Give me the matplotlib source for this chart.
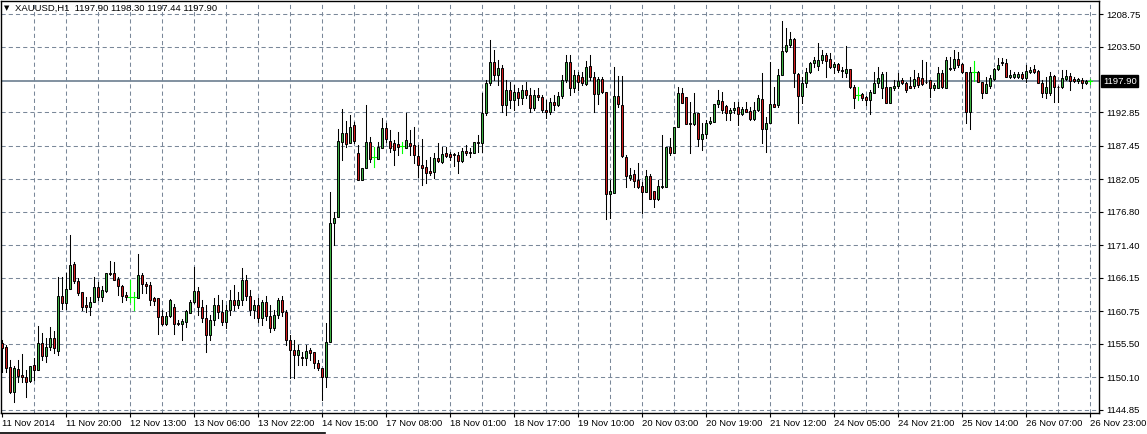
import matplotlib
matplotlib.use("Agg")
import matplotlib.pyplot as plt
import matplotlib.transforms as mtransforms
from matplotlib.patches import Rectangle
from matplotlib.lines import Line2D

# XAUUSD H1 candles, 11 Nov 2014 .. 26 Nov 2014 23:00
opens = [
    1155.6, 1155.0, 1151.7, 1147.7, 1151.4, 1150.4, 1150.2, 1149.5, 1152.1, 1151.3,
    1155.6, 1153.5, 1155.0, 1156.4, 1154.3, 1163.2, 1162.1, 1164.3, 1168.4, 1165.6,
    1163.9, 1161.7, 1161.4, 1162.2, 1164.7, 1163.0, 1164.0, 1166.9, 1166.9, 1165.9,
    1164.8, 1163.4, 1163.0, 1163.0, 1162.9, 1166.6, 1165.1, 1165.0, 1162.9, 1162.9,
    1160.0, 1158.7, 1160.0, 1161.4, 1158.8, 1158.7, 1159.0, 1160.5, 1162.2, 1164.0,
    1161.4, 1159.7, 1156.9, 1159.3, 1161.7, 1160.6, 1159.0, 1161.0, 1162.6, 1161.7,
    1162.6, 1165.8, 1163.2, 1161.0, 1161.7, 1159.7, 1162.2, 1160.0, 1158.0, 1160.1,
    1162.6, 1160.6, 1156.1, 1154.5, 1153.7, 1153.4, 1153.2, 1154.5, 1154.2, 1152.4,
    1151.6, 1150.1, 1155.8, 1175.0, 1176.0, 1188.1, 1189.5, 1187.9, 1190.8, 1186.3,
    1181.9, 1183.9, 1188.1, 1185.7, 1185.3, 1187.1, 1190.3, 1188.2, 1187.9, 1187.8,
    1187.4, 1187.1, 1187.9, 1187.6, 1185.8, 1184.4, 1184.0, 1183.4, 1183.2, 1185.5,
    1184.8, 1186.3, 1186.1, 1186.1, 1186.0, 1185.0, 1186.6, 1186.5, 1186.3, 1188.1,
    1187.9, 1192.8, 1197.6, 1201.0, 1198.9, 1200.0, 1194.0, 1196.5, 1194.9, 1196.2,
    1195.2, 1196.5, 1195.7, 1193.6, 1195.7, 1195.3, 1193.2, 1192.9, 1194.5, 1194.0,
    1195.5, 1198.1, 1201.0, 1196.8, 1198.9, 1198.6, 1197.4, 1200.3, 1198.6, 1195.8,
    1198.3, 1196.2, 1179.7, 1179.8, 1195.5, 1194.0, 1185.6, 1182.3, 1182.9, 1181.9,
    1181.0, 1180.0, 1182.6, 1180.2, 1178.9, 1180.8, 1180.8, 1187.3, 1186.3, 1190.5,
    1196.0, 1195.3, 1191.1, 1191.0, 1192.8, 1188.6, 1189.4, 1191.1, 1191.3, 1194.2,
    1194.7, 1193.9, 1192.8, 1193.2, 1193.7, 1192.6, 1193.4, 1193.1, 1191.8, 1193.2,
    1195.0, 1190.2, 1191.1, 1194.2, 1194.0, 1198.9, 1202.8, 1203.7, 1204.7, 1199.1,
    1195.5, 1197.6, 1199.4, 1200.8, 1200.3, 1201.3, 1202.1, 1201.5, 1200.2, 1200.7,
    1199.7, 1199.2, 1199.9, 1197.0, 1195.7, 1195.8, 1195.3, 1194.9, 1196.0, 1197.6,
    1196.8, 1197.0, 1194.4, 1196.8, 1197.1, 1198.1, 1197.6, 1197.1, 1197.1, 1198.6,
    1198.4, 1197.8, 1198.1, 1196.8, 1196.8, 1199.2, 1196.8, 1200.0, 1200.0, 1201.5,
    1200.7, 1199.4, 1192.9, 1199.4, 1199.4, 1197.8, 1196.0, 1197.1, 1198.3, 1199.9,
    1201.0, 1200.8, 1198.6, 1198.6, 1198.6, 1199.1, 1198.4, 1199.4, 1199.9, 1199.5,
    1197.6, 1196.0, 1196.0, 1198.7, 1197.0, 1197.0, 1198.3, 1198.7, 1198.3, 1197.9,
    1198.1, 1197.6, 1197.90,
]
highs = [
    1156.1, 1155.3, 1152.9, 1151.9, 1152.9, 1153.8, 1151.3, 1151.9, 1153.2, 1158.4,
    1157.2, 1156.4, 1158.2, 1157.6, 1166.3, 1166.3, 1166.9, 1173.1, 1168.7, 1166.1,
    1163.9, 1163.0, 1163.0, 1166.3, 1165.5, 1164.8, 1166.9, 1168.9, 1168.7, 1166.3,
    1165.0, 1163.9, 1165.8, 1163.9, 1170.0, 1166.9, 1165.5, 1165.5, 1163.0, 1162.9,
    1161.0, 1160.6, 1162.7, 1161.9, 1159.3, 1159.5, 1161.0, 1162.6, 1167.9, 1164.7,
    1162.6, 1161.7, 1160.1, 1162.9, 1163.4, 1162.6, 1161.7, 1164.2, 1165.0, 1163.9,
    1167.7, 1166.6, 1164.2, 1162.6, 1162.9, 1162.6, 1163.2, 1161.7, 1161.0, 1162.9,
    1163.2, 1161.0, 1156.9, 1156.1, 1155.3, 1154.2, 1155.3, 1154.8, 1154.2, 1152.9,
    1151.6, 1158.8, 1180.0, 1176.8, 1190.2, 1193.4, 1191.5, 1192.4, 1191.3, 1187.6,
    1183.9, 1194.0, 1188.9, 1187.3, 1188.1, 1192.0, 1191.1, 1190.0, 1188.4, 1189.7,
    1188.1, 1192.8, 1190.0, 1190.5, 1187.6, 1188.6, 1185.2, 1185.7, 1186.3, 1187.9,
    1187.3, 1187.3, 1186.5, 1186.3, 1186.5, 1187.1, 1187.6, 1187.1, 1188.1, 1189.2,
    1196.0, 1198.1, 1204.5, 1202.9, 1201.3, 1200.5, 1198.1, 1197.8, 1197.3, 1196.8,
    1197.3, 1197.8, 1196.8, 1196.5, 1196.8, 1195.7, 1194.9, 1195.2, 1195.7, 1196.2,
    1198.9, 1202.1, 1202.1, 1199.7, 1199.4, 1199.4, 1201.2, 1202.1, 1199.4, 1198.6,
    1198.6, 1196.2, 1181.9, 1200.2, 1198.7, 1198.7, 1186.0, 1183.9, 1183.6, 1184.7,
    1181.6, 1183.6, 1182.9, 1180.2, 1181.9, 1189.2, 1187.3, 1188.7, 1190.5, 1197.0,
    1196.8, 1195.3, 1194.5, 1196.0, 1192.8, 1191.1, 1191.6, 1192.1, 1194.2, 1196.5,
    1196.2, 1194.0, 1193.6, 1194.5, 1194.5, 1193.7, 1194.5, 1193.7, 1194.5, 1195.7,
    1199.2, 1192.1, 1201.0, 1197.0, 1199.9, 1207.6, 1206.5, 1205.8, 1204.9, 1199.2,
    1198.6, 1200.0, 1201.0, 1201.8, 1204.1, 1202.9, 1202.4, 1202.4, 1201.0, 1200.8,
    1200.2, 1203.6, 1199.9, 1197.3, 1197.0, 1196.0, 1195.5, 1196.5, 1199.4, 1200.2,
    1199.4, 1199.4, 1197.0, 1198.1, 1199.2, 1198.4, 1197.8, 1198.6, 1199.7, 1199.2,
    1201.3, 1201.0, 1198.1, 1197.6, 1200.2, 1199.7, 1201.8, 1201.8, 1202.9, 1202.6,
    1200.8, 1199.4, 1200.2, 1201.2, 1199.5, 1197.8, 1198.6, 1198.9, 1200.0, 1201.6,
    1201.6, 1201.5, 1199.7, 1199.4, 1199.4, 1199.4, 1200.5, 1200.2, 1200.5, 1199.7,
    1198.1, 1198.6, 1199.4, 1198.9, 1197.1, 1199.7, 1199.7, 1199.2, 1198.6, 1198.4,
    1198.4, 1198.1, 1198.30,
]
lows = [
    1150.9, 1150.9, 1147.5, 1146.1, 1149.3, 1149.3, 1146.9, 1149.3, 1149.6, 1151.3,
    1152.9, 1152.5, 1154.5, 1154.0, 1153.7, 1161.1, 1161.1, 1164.3, 1165.3, 1163.4,
    1161.0, 1160.6, 1160.1, 1162.2, 1162.6, 1162.4, 1163.9, 1166.6, 1165.8, 1163.4,
    1162.2, 1162.6, 1162.2, 1161.0, 1162.9, 1163.7, 1163.7, 1161.7, 1161.7, 1157.1,
    1158.5, 1158.5, 1159.8, 1157.1, 1158.5, 1156.1, 1158.2, 1160.5, 1162.1, 1160.1,
    1159.0, 1154.2, 1156.1, 1158.5, 1159.7, 1158.5, 1158.0, 1160.1, 1161.0, 1161.3,
    1161.7, 1162.6, 1160.1, 1159.7, 1159.0, 1158.5, 1159.3, 1157.4, 1157.7, 1159.7,
    1160.0, 1155.3, 1150.0, 1150.0, 1152.1, 1152.1, 1152.1, 1152.9, 1151.6, 1151.3,
    1146.4, 1148.5, 1155.8, 1171.4, 1176.0, 1185.2, 1187.3, 1187.9, 1187.9, 1181.9,
    1181.9, 1183.9, 1184.8, 1184.0, 1185.3, 1187.1, 1188.1, 1186.5, 1184.4, 1186.0,
    1186.3, 1187.1, 1186.0, 1184.7, 1182.4, 1181.1, 1181.4, 1182.7, 1182.3, 1184.8,
    1184.7, 1185.7, 1185.2, 1184.2, 1183.1, 1184.8, 1186.0, 1185.7, 1186.3, 1186.5,
    1186.5, 1192.4, 1197.3, 1198.1, 1197.3, 1192.9, 1192.4, 1193.6, 1193.2, 1194.0,
    1194.2, 1195.2, 1192.9, 1193.2, 1194.9, 1192.9, 1191.9, 1192.6, 1193.2, 1193.9,
    1195.2, 1197.8, 1195.7, 1196.2, 1196.5, 1197.3, 1197.3, 1198.1, 1192.9, 1194.2,
    1196.0, 1175.6, 1175.8, 1179.8, 1193.7, 1185.6, 1180.8, 1181.9, 1180.8, 1180.6,
    1176.6, 1180.0, 1178.9, 1177.6, 1178.7, 1180.6, 1180.8, 1186.0, 1186.3, 1190.5,
    1194.4, 1191.0, 1186.3, 1190.8, 1187.4, 1186.8, 1188.7, 1191.0, 1191.3, 1193.7,
    1192.8, 1191.6, 1191.6, 1192.8, 1190.8, 1192.4, 1192.9, 1191.6, 1191.6, 1193.1,
    1187.9, 1186.5, 1191.1, 1193.7, 1193.7, 1198.9, 1202.6, 1203.4, 1196.9, 1191.1,
    1194.4, 1196.9, 1199.2, 1200.2, 1199.7, 1200.8, 1198.6, 1200.0, 1199.2, 1199.4,
    1198.6, 1198.6, 1196.8, 1193.6, 1194.9, 1194.9, 1194.0, 1192.6, 1196.0, 1196.9,
    1195.2, 1194.4, 1194.4, 1196.5, 1196.8, 1197.4, 1196.2, 1196.8, 1196.8, 1196.9,
    1197.3, 1197.6, 1195.3, 1196.5, 1196.8, 1196.8, 1196.8, 1199.7, 1199.7, 1200.2,
    1199.2, 1191.1, 1190.2, 1197.9, 1197.8, 1195.2, 1196.0, 1196.8, 1198.1, 1199.7,
    1200.5, 1198.6, 1198.4, 1198.4, 1198.4, 1198.3, 1197.8, 1199.2, 1199.2, 1197.6,
    1195.3, 1195.2, 1195.7, 1194.5, 1194.5, 1196.8, 1198.1, 1196.5, 1197.8, 1197.6,
    1196.8, 1197.4, 1197.44,
]
closes = [
    1154.8, 1151.6, 1147.7, 1151.6, 1150.3, 1150.2, 1149.3, 1151.9, 1151.3, 1155.6,
    1153.5, 1155.0, 1156.4, 1154.8, 1163.2, 1162.1, 1164.3, 1168.2, 1165.6, 1163.7,
    1161.4, 1161.4, 1162.2, 1164.7, 1163.0, 1164.2, 1166.9, 1166.7, 1165.8, 1164.8,
    1163.2, 1163.0, 1163.0, 1163.0, 1166.6, 1165.1, 1164.8, 1162.6, 1162.4, 1159.8,
    1158.7, 1160.0, 1162.6, 1158.7, 1158.7, 1159.2, 1160.8, 1162.2, 1164.0, 1161.4,
    1159.7, 1156.9, 1159.3, 1161.7, 1160.6, 1159.0, 1161.0, 1162.6, 1161.7, 1162.6,
    1165.8, 1163.2, 1161.0, 1161.7, 1159.7, 1162.2, 1160.0, 1158.0, 1160.1, 1162.6,
    1160.6, 1156.1, 1154.5, 1153.7, 1154.5, 1153.2, 1154.3, 1154.0, 1152.4, 1151.6,
    1150.1, 1155.8, 1175.0, 1175.8, 1188.2, 1189.5, 1187.8, 1190.5, 1188.2, 1181.9,
    1183.9, 1188.1, 1185.3, 1185.7, 1187.3, 1190.3, 1188.6, 1187.1, 1186.8, 1187.3,
    1187.4, 1188.4, 1187.4, 1186.0, 1184.4, 1183.9, 1183.1, 1183.1, 1185.5, 1185.0,
    1186.1, 1185.8, 1185.7, 1186.0, 1185.0, 1186.6, 1186.3, 1186.3, 1188.1, 1187.9,
    1192.8, 1197.6, 1201.0, 1198.9, 1200.0, 1194.0, 1196.5, 1194.9, 1196.2, 1195.2,
    1196.5, 1195.7, 1193.6, 1195.7, 1195.3, 1193.2, 1192.9, 1194.5, 1194.0, 1195.5,
    1198.1, 1201.0, 1196.8, 1198.9, 1197.8, 1197.6, 1200.2, 1198.6, 1195.8, 1198.3,
    1196.2, 1179.7, 1180.2, 1195.5, 1194.2, 1185.8, 1182.6, 1182.7, 1181.8, 1180.8,
    1180.0, 1182.6, 1178.9, 1178.9, 1181.0, 1181.0, 1187.3, 1186.3, 1190.5, 1196.0,
    1194.4, 1191.0, 1191.0, 1192.8, 1188.6, 1189.4, 1191.1, 1191.5, 1194.2, 1194.9,
    1193.2, 1192.8, 1193.2, 1193.6, 1192.6, 1193.4, 1192.9, 1191.8, 1193.2, 1195.2,
    1190.2, 1191.1, 1194.2, 1193.7, 1198.9, 1202.8, 1203.7, 1204.7, 1199.2, 1195.5,
    1197.6, 1199.4, 1200.8, 1201.3, 1201.3, 1202.1, 1201.2, 1200.2, 1200.7, 1199.7,
    1199.6, 1199.9, 1197.0, 1195.2, 1195.7, 1195.2, 1194.9, 1196.2, 1197.6, 1198.4,
    1199.1, 1194.4, 1197.0, 1197.1, 1197.9, 1197.6, 1196.5, 1196.8, 1198.3, 1197.3,
    1197.4, 1197.7, 1196.8, 1197.3, 1199.2, 1197.0, 1201.3, 1199.9, 1201.5, 1200.5,
    1199.4, 1192.9, 1199.4, 1199.4, 1197.8, 1196.0, 1197.4, 1198.4, 1199.9, 1200.5,
    1200.8, 1198.6, 1198.9, 1199.1, 1199.1, 1198.4, 1199.5, 1199.7, 1199.4, 1197.6,
    1196.0, 1197.0, 1198.7, 1197.0, 1196.9, 1198.4, 1198.7, 1197.9, 1197.9, 1198.3,
    1197.6, 1197.9, 1197.90,
]

time_labels = ["11 Nov 2014", "11 Nov 20:00", "12 Nov 13:00", "13 Nov 06:00",
               "13 Nov 22:00", "14 Nov 15:00", "17 Nov 08:00", "18 Nov 01:00",
               "18 Nov 17:00", "19 Nov 10:00", "20 Nov 03:00", "20 Nov 19:00",
               "21 Nov 12:00", "24 Nov 05:00", "24 Nov 21:00", "25 Nov 14:00",
               "26 Nov 07:00", "26 Nov 23:00"]
price_levels = [1208.75, 1203.50, 1192.85, 1187.45, 1182.05, 1176.80,
                1171.40, 1166.15, 1160.75, 1155.50, 1150.10, 1144.85]
last_price = 1197.90
header = "XAUUSD,H1  1197.90 1198.30 1197.44 1197.90"

plt.rcParams["font.family"] = ["Liberation Sans", "DejaVu Sans"]
plt.rcParams["lines.scale_dashes"] = False

W, H = 1147, 434
fig = plt.figure(figsize=(W / 100, H / 100), dpi=100)
ax = fig.add_axes([1 / W, 21 / H, 1098 / W, 412 / H])

n = len(closes)
ax.set_xlim(-0.175, 274.3)
ax.set_ylim(1144.31, 1210.85)

# grid
grid_color = "#7a8899"
dash = (0, (3.0, 2.2))
for lvl in price_levels:
    ax.axhline(lvl, color=grid_color, lw=0.75, ls=dash, zorder=0)
for b in range(8, n, 8):
    ax.axvline(b, color=grid_color, lw=0.75, ls=dash, zorder=0)

# current price line
ax.axhline(last_price, color="#778899", lw=1.3, zorder=1)

# candles
up_fill = "#3cb043"
down_fill = "#d01c1c"
doji_color = "#00ff00"
body_w = 0.55
for i in range(n):
    o, h, l, c = opens[i], highs[i], lows[i], closes[i]
    if abs(o - c) < 0.005:
        ax.plot([i, i], [l, h], color=doji_color, lw=0.8, zorder=2)
        ax.plot([i - 0.45, i + 0.45], [c, c], color=doji_color, lw=0.8, zorder=2)
        continue
    ax.plot([i, i], [l, h], color="black", lw=0.75, zorder=2)
    fill = up_fill if c > o else down_fill
    ax.add_patch(Rectangle((i - body_w / 2, min(o, c)), body_w, abs(c - o),
                           facecolor=fill, edgecolor="black", lw=0.7, zorder=3))

# axes / ticks
for sp in ax.spines.values():
    sp.set_color("black")
    sp.set_linewidth(1.0)

ax.yaxis.tick_right()
ax.set_yticks(price_levels)
ax.set_yticklabels([f"{v:.2f}" for v in price_levels])
ax.tick_params(axis="y", direction="out", length=3, width=0.8, pad=2,
               labelsize=6.8, colors="black")

ax.set_xticks(range(0, n, 16))
ax.set_xticklabels(time_labels)
for lbl in ax.get_xticklabels():
    lbl.set_horizontalalignment("left")
ax.tick_params(axis="x", direction="out", length=3, width=0.8, pad=1.5,
               labelsize=6.8, colors="black")

# price tag on the right axis
tag_tr = mtransforms.blended_transform_factory(ax.transAxes, ax.transData)
tag_tr = tag_tr + mtransforms.ScaledTranslation(4 / 100, 0, fig.dpi_scale_trans)
ax.text(1.0, last_price, f"{last_price:.2f}", transform=tag_tr, ha="left",
        va="center", color="white", fontsize=6.8, clip_on=False,
        bbox=dict(boxstyle="square,pad=0.18", fc="black", ec="black"))

# header in the top-left corner
fig.text(3.5 / W, 1 - 8.5 / H, "\u25bc", fontsize=5, va="center", ha="left",
         family=["DejaVu Sans"])
fig.text(15 / W, 1 - 8.5 / H, header, fontsize=6.8, va="center", ha="left")

# thin bar at the bottom of the window
fig.add_artist(Line2D([0, 325 / W], [0.7 / H, 0.7 / H], color="black", lw=1.2))

fig.savefig("out.png", dpi=100)
